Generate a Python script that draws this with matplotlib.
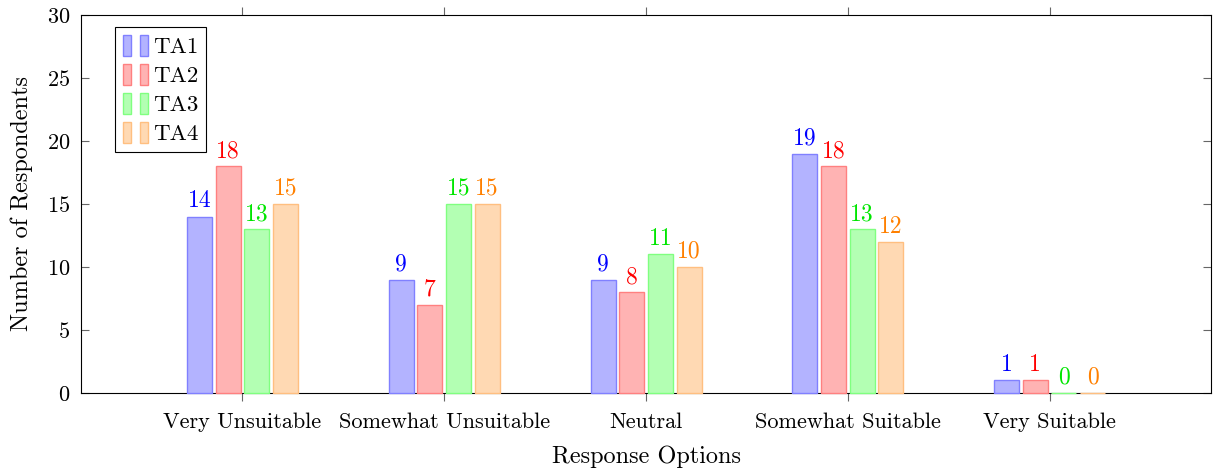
import matplotlib
matplotlib.use('Agg')
import matplotlib.pyplot as plt
from matplotlib.patches import Patch
from matplotlib.legend_handler import HandlerTuple
import numpy as np

# Data
categories = ['Very Unsuitable', 'Somewhat Unsuitable', 'Neutral', 'Somewhat Suitable', 'Very Suitable']
ta1 = [14, 9, 9, 19, 1]
ta2 = [18, 7, 8, 18, 1]
ta3 = [13, 15, 11, 13, 0]
ta4 = [15, 15, 10, 12, 0]
series_names = ['TA1', 'TA2', 'TA3', 'TA4']

plt.rcParams['font.family'] = 'cmr10'
plt.rcParams['axes.formatter.use_mathtext'] = True
plt.rcParams['font.size'] = 16

fills = [(0.7, 0.7, 1.0), (1.0, 0.7, 0.7), (0.7, 1.0, 0.7), (1.0, 0.85, 0.7)]
edges = [(0.5, 0.5, 1.0), (1.0, 0.5, 0.5), (0.5, 1.0, 0.5), (1.0, 0.75, 0.5)]
text_colors = ['blue', 'red', (0.0, 0.9, 0.0), (1.0, 0.5, 0.0)]

fig = plt.figure(figsize=(12.13, 4.74), dpi=100)
ax = fig.add_axes([0.0668, 0.1709, 0.9316, 0.7975])

x = np.arange(len(categories))
offsets = [-0.213, -0.071, 0.071, 0.213]
width = 0.124

for vals, off, fc, ec, tc in zip([ta1, ta2, ta3, ta4], offsets, fills, edges, text_colors):
    bars = ax.bar(x + off, vals, width, color=fc, edgecolor=ec, linewidth=1, zorder=3,
                  clip_on=False)
    for b, v in zip(bars, vals):
        ax.annotate(str(v), (b.get_x() + b.get_width() / 2, v), xytext=(0, 3),
                    textcoords='offset points', ha='center', va='bottom', color=tc,
                    fontsize=17)

ax.set_xlim(-0.8, 4.8)
ax.set_ylim(0, 30)
ax.set_xticks(x)
ax.set_xticklabels(categories)
ax.set_yticks(range(0, 31, 5))
ax.tick_params(axis='x', direction='out', top=True, length=6, color='0.4', pad=8)
ax.tick_params(axis='y', direction='in', right=True, length=6, color='0.4', pad=8)
ax.set_xlabel('Response Options', fontsize=17.5, labelpad=10)
ax.set_ylabel('Number of Respondents', fontsize=17.5, labelpad=10)

handles = [(Patch(facecolor=fc, edgecolor=ec), Patch(facecolor=fc, edgecolor=ec))
           for fc, ec in zip(fills, edges)]
leg = ax.legend(handles, series_names, loc='upper left', bbox_to_anchor=(0.030, 0.968),
                borderaxespad=0, fontsize=16.5,
                handler_map={tuple: HandlerTuple(ndivide=None, pad=0.4)},
                handlelength=1.1, handleheight=1.0, handletextpad=0.2,
                labelspacing=0.3, fancybox=False, edgecolor='black', framealpha=1,
                borderpad=0.35)
leg.get_frame().set_linewidth(0.8)

plt.savefig('out.png', dpi=100)
